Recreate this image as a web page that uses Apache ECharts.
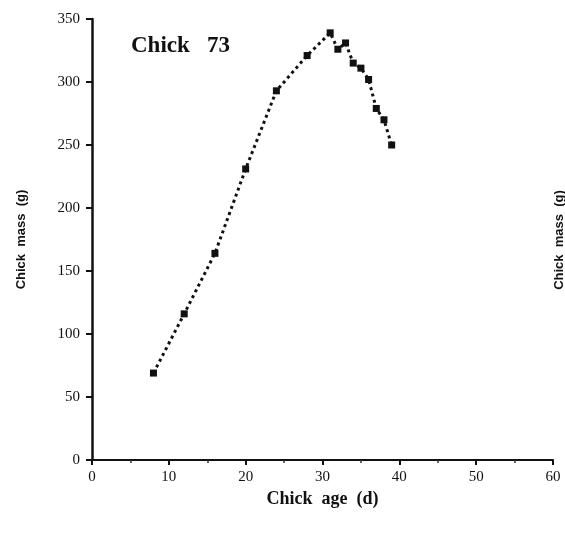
<!DOCTYPE html>
<html>
<head>
<meta charset="utf-8">
<script src="https://cdn.jsdelivr.net/npm/echarts@6/dist/echarts.min.js"></script>
<style>
  html, body { margin: 0; padding: 0; background: #fff; }
  #chart { width: 565px; height: 534px; }
</style>
</head>
<body>
<div id="chart"></div>
<script>
// chick age (d) and mass (g)
const ages = [8, 12, 16, 20, 24, 28, 31, 32, 33, 34, 35, 36, 37, 38, 39];
const masses = [69, 116, 164, 231, 293, 321, 339, 326, 331, 315, 311, 302, 279, 270, 250];
const xTicks = [0, 10, 20, 30, 40, 50, 60];
const yTicks = [0, 50, 100, 150, 200, 250, 300, 350];

const serif = '"Liberation Serif", "DejaVu Serif", serif';

let chart = echarts.init(document.getElementById('chart'));
chart.setOption({
  backgroundColor: '#fff',
  animation: false,
  grid: { left: 92, right: 12, top: 19, bottom: 74 },
  title: {
    text: 'Chick   73',
    left: 126, top: 30,
    textStyle: { fontFamily: serif, fontWeight: 'bold', fontSize: 23, color: '#111' }
  },
  xAxis: {
    type: 'value', min: 0, max: 60, interval: 10,
    name: 'Chick  age  (d)', nameLocation: 'middle', nameGap: 28,
    nameTextStyle: { fontFamily: serif, fontWeight: 'bold', fontSize: 18, color: '#111' },
    axisLine: { lineStyle: { color: '#111', width: 2 } },
    axisTick: { show: true, length: 5, lineStyle: { color: '#111', width: 2 } },
    minorTick: { show: true, splitNumber: 2, length: 3, lineStyle: { color: '#333', width: 1.5 } },
    axisLabel: { fontFamily: serif, fontSize: 15, color: '#111', margin: 10,
      formatter: v => xTicks.includes(v) ? String(v) : '' },
    splitLine: { show: false }
  },
  yAxis: {
    type: 'value', min: 0, max: 350, interval: 50,
    name: 'Chick  mass  (g)', nameLocation: 'middle', nameGap: 64,
    nameTextStyle: { fontFamily: '"Liberation Sans", sans-serif', fontWeight: 'bold', fontSize: 13, color: '#111' },
    axisLine: { lineStyle: { color: '#111', width: 2.5 } },
    axisTick: { show: true, length: 6, lineStyle: { color: '#111', width: 2 } },
    axisLabel: { fontFamily: serif, fontSize: 15, color: '#111', margin: 12,
      formatter: v => yTicks.includes(v) ? String(v) : '' },
    splitLine: { show: false }
  },
  graphic: [{
    type: 'text', x: 566, y: 240, rotation: Math.PI / 2, originX: 0, originY: 0,
    style: { text: 'Chick  mass  (g)', fill: '#111', align: 'center', verticalAlign: 'bottom',
      font: 'bold 13px "Liberation Sans", sans-serif' }
  }],
  series: [{
    type: 'line',
    data: ages.map((a, i) => [a, masses[i]]),
    symbol: 'rect', symbolSize: 7,
    itemStyle: { color: '#111' },
    lineStyle: { color: '#111', width: 3, type: [3, 3.5] }
  }]
});
</script>
</body>
</html>
